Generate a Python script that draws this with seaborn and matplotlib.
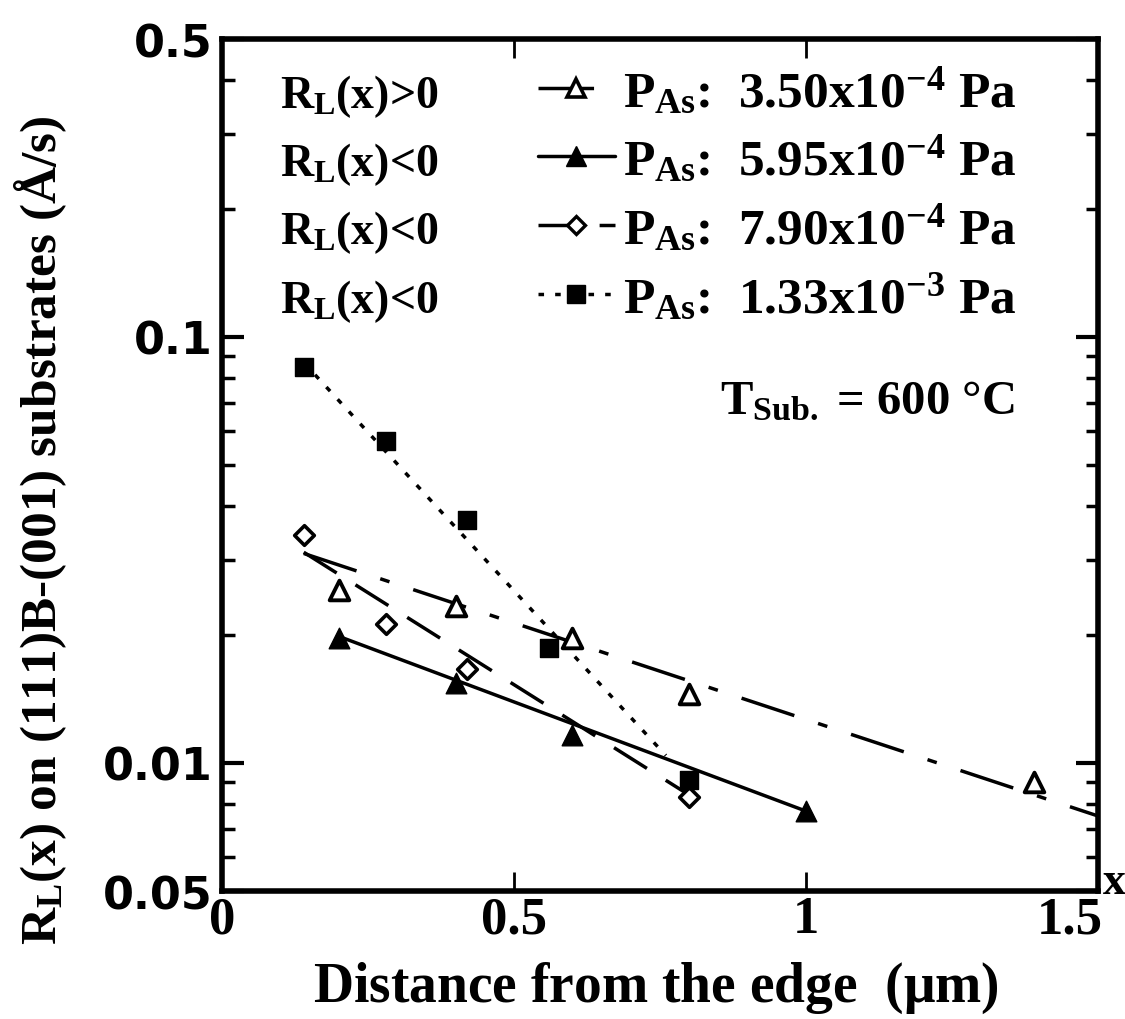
import numpy as np
import pandas as pd
import matplotlib
matplotlib.use("Agg")
import matplotlib.pyplot as plt
import matplotlib.transforms as mtransforms
from matplotlib.lines import Line2D
import seaborn as sns

# ---- measured lateral growth rates (x in um, rate in A/s) ----
x_350 = [0.20, 0.40, 0.60, 0.80, 1.39]
r_350 = [0.0254, 0.0233, 0.0196, 0.0145, 0.0090]

x_595 = [0.20, 0.40, 0.60, 1.00]
r_595 = [0.0196, 0.0154, 0.0116, 0.0077]

x_790 = [0.14, 0.28, 0.42, 0.80]
r_790 = [0.0342, 0.0212, 0.0166, 0.0083]

x_133 = [0.14, 0.28, 0.42, 0.56, 0.80]
r_133 = [0.0851, 0.0569, 0.0372, 0.0186, 0.0091]

# ---- exponential fit lines (end points) ----
fit_x_350 = [0.14, 1.50]
fit_r_350 = [0.0310, 0.0075]
fit_x_595 = [0.20, 1.00]
fit_r_595 = [0.0198, 0.0077]
fit_x_790 = [0.14, 0.80]
fit_r_790 = [0.0312, 0.0084]
fit_x_133 = [0.14, 0.76]
fit_r_133 = [0.0870, 0.0104]

legend_labels = [
    r"$P_{As}$:  3.50x10$^{-4}$ Pa",
    r"$P_{As}$:  5.95x10$^{-4}$ Pa",
    r"$P_{As}$:  7.90x10$^{-4}$ Pa",
    r"$P_{As}$:  1.33x10$^{-3}$ Pa",
]
sign_labels = [r"$R_L$(x)>0", r"$R_L$(x)<0", r"$R_L$(x)<0", r"$R_L$(x)<0"]

y_tick_values = [0.005, 0.01, 0.1, 0.5]
y_tick_labels = ["0.05", "0.01", "0.1", "0.5"]
x_tick_values = [0, 0.5, 1, 1.5]
x_tick_labels = ["0", "0.5", "1", "1.5"]

sns.set_style("ticks")
plt.rcParams["font.family"] = ["Liberation Serif", "DejaVu Serif"]
plt.rcParams["font.weight"] = "bold"
plt.rcParams["axes.labelweight"] = "bold"
plt.rcParams["mathtext.fontset"] = "custom"
plt.rcParams["mathtext.rm"] = "Liberation Serif:bold"
plt.rcParams["mathtext.it"] = "Liberation Serif:bold"
plt.rcParams["mathtext.bf"] = "Liberation Serif:bold"
plt.rcParams["lines.scale_dashes"] = False
for key in ["text.color", "axes.labelcolor", "xtick.color", "ytick.color", "axes.edgecolor"]:
    plt.rcParams[key] = "black"

fig = plt.figure(figsize=(11.25, 10.2), dpi=100)
ax = fig.add_axes([222 / 1125, 128 / 1020, 876 / 1125, 852 / 1020])
ax.set_yscale("log")

lw = 2.5
style_350 = (0, (40, 18, 7, 18))
style_595 = "-"
style_790 = (0, (28, 16))
style_133 = (0, (4, 8))

# fit lines
sns.lineplot(x=fit_x_350, y=fit_r_350, ax=ax, color="black", lw=lw, linestyle=style_350)
sns.lineplot(x=fit_x_595, y=fit_r_595, ax=ax, color="black", lw=lw, linestyle=style_595)
sns.lineplot(x=fit_x_790, y=fit_r_790, ax=ax, color="black", lw=lw, linestyle=style_790)
sns.lineplot(x=fit_x_133, y=fit_r_133, ax=ax, color="black", lw=lw, linestyle=style_133)

# measured points
sns.scatterplot(x=x_350, y=r_350, ax=ax, marker="^", s=200, color="white",
                edgecolor="black", linewidth=2.8, zorder=4)
sns.scatterplot(x=x_595, y=r_595, ax=ax, marker="^", s=220, color="black",
                edgecolor="black", linewidth=1, zorder=4)
sns.scatterplot(x=x_790, y=r_790, ax=ax, marker="D", s=100, color="white",
                edgecolor="black", linewidth=2.6, zorder=4)
sns.scatterplot(x=x_133, y=r_133, ax=ax, marker="s", s=180, color="black",
                edgecolor="black", linewidth=1, zorder=4)

ax.set_xlim(0, 1.5)
ax.set_ylim(0.005, 0.5)
ax.set_xticks(x_tick_values)
ax.set_xticklabels(x_tick_labels, fontsize=38, weight="bold")
ax.set_yticks(y_tick_values)
ax.set_yticklabels(y_tick_labels, fontsize=32, family="DejaVu Sans", weight="bold")
ax.tick_params(axis="y", which="major", direction="in", length=16, width=3,
               left=True, right=True, pad=7)
ax.tick_params(axis="y", which="minor", direction="in", length=9, width=2.5,
               left=True, right=True)
ax.tick_params(axis="x", which="major", direction="in", length=14, width=2,
               top=True, bottom=True, pad=3)
ax.xaxis.set_minor_locator(matplotlib.ticker.NullLocator())
# keep the last x label inside the figure
last = ax.get_xticklabels()[-1]
last.set_transform(last.get_transform() +
                   mtransforms.ScaledTranslation(-0.28, 0, fig.dpi_scale_trans))
for sp in ax.spines.values():
    sp.set_linewidth(4)
    sp.set_color("black")

ax.set_xlabel(r"Distance from the edge  ($\mu$m)", fontsize=40, fontweight="bold")
ax.xaxis.set_label_coords(0.495, -0.08)
ax.set_ylabel(r"$R_L$(x) on (111)B-(001) substrates (Å/s)", fontsize=37, fontweight="bold")
ax.yaxis.set_label_coords(-0.175, 0.425)

ax.text(1.006, 0.01, "x", transform=ax.transAxes, fontsize=33, va="center", ha="left")

# legend
handles = [
    Line2D([], [], color="black", lw=lw, linestyle=style_350, marker="^", ms=13,
           mfc="white", mec="black", mew=2.6),
    Line2D([], [], color="black", lw=lw, linestyle=style_595, marker="^", ms=14,
           mfc="black", mec="black"),
    Line2D([], [], color="black", lw=lw, linestyle=style_790, marker="D", ms=9.5,
           mfc="white", mec="black", mew=2.4),
    Line2D([], [], color="black", lw=lw, linestyle=style_133, marker="s", ms=13,
           mfc="black", mec="black"),
]
leg = ax.legend(handles, legend_labels, loc="upper left", bbox_to_anchor=(0.337, 0.993),
                frameon=False, fontsize=37, handlelength=1.5, handletextpad=0.15,
                labelspacing=0.34, borderaxespad=0)

row_y = [0.92, 0.84, 0.76, 0.68]
for s, yy in zip(sign_labels, row_y):
    ax.text(0.066, yy, s, transform=ax.transAxes, fontsize=33, va="baseline", ha="left")

ax.text(0.568, 0.56, r"$T_{Sub.}$ = 600 °C", transform=ax.transAxes, fontsize=35,
        va="baseline", ha="left")

fig.savefig("out.png", dpi=100)
